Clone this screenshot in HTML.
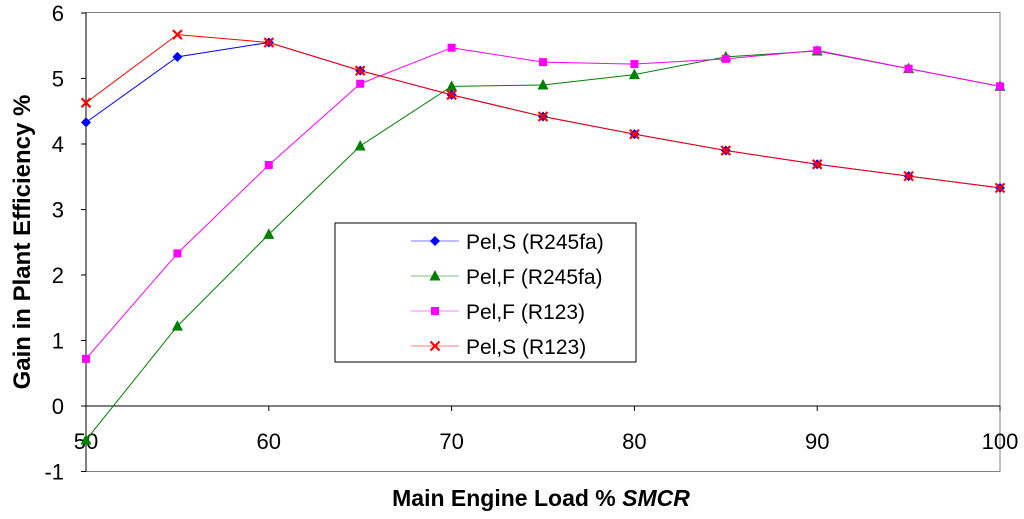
<!DOCTYPE html>
<html><head><meta charset="utf-8"><style>
body{margin:0;background:#fff;}
svg{display:block;font-family:"Liberation Sans",Arial,sans-serif;}
</style></head><body>
<svg id="chart" width="1024" height="519" viewBox="0 0 1024 519" xmlns="http://www.w3.org/2000/svg">
<rect x="86" y="12.5" width="914" height="459" fill="#fff" stroke="#808080" stroke-width="1"/>
<g id="axes"></g>
<g id="series"></g>
<text transform="translate(30,242) rotate(-90)" text-anchor="middle" font-size="24" font-weight="bold">Gain in Plant Efficiency %</text>
<text x="541" y="506" text-anchor="middle" font-size="23" font-weight="bold">Main Engine Load % <tspan font-style="italic">SMCR</tspan></text>
<g>
<rect x="335" y="223" width="301" height="139" fill="#fff" stroke="#000" stroke-width="1"/>
<g id="legend-items"></g>
</g>
</svg>
<script>
const categories=[50,55,60,65,70,75,80,85,90,95,100];
const pelS245=[4.33,5.33,5.55,5.12,4.75,4.42,4.15,3.9,3.69,3.51,3.33];
const pelF245=[-0.52,1.22,2.62,3.97,4.88,4.9,5.06,5.33,5.42,5.15,4.88];
const pelF123=[0.72,2.33,3.68,4.92,5.47,5.25,5.22,5.3,5.43,5.15,4.88];
const pelS123=[4.63,5.67,5.55,5.12,4.75,4.42,4.15,3.9,3.69,3.51,3.33];
const yTicks=[-1,0,1,2,3,4,5,6];
const xTicks=[50,60,70,80,90,100];
const seriesNames=["Pel,S (R245fa)","Pel,F (R245fa)","Pel,F (R123)","Pel,S (R123)"];

const NS="http://www.w3.org/2000/svg";
function X(v){return 86+(v-50)/50*914;}
function Y(v){return 406-65.5*v;}
function mk(t,a,p){const e=document.createElementNS(NS,t);for(const k in a)e.setAttribute(k,a[k]);p.appendChild(e);return e;}
const axes=document.getElementById('axes');
const yl=mk('line',{x1:86,y1:12.5,x2:86,y2:471.5,stroke:'#000'},axes);


const xl=mk('line',{x1:86,y1:Y(0),x2:1000,y2:Y(0),stroke:'#000'},axes);


yTicks.forEach(v=>{
 mk('line',{x1:81,y1:Y(v),x2:86,y2:Y(v),stroke:'#000'},axes);
 const t=mk('text',{x:64,y:Y(v)+8,'text-anchor':'end','font-size':22},axes);
 t.textContent=v;
 
 
});
xTicks.forEach(v=>{
 mk('line',{x1:X(v),y1:Y(0),x2:X(v),y2:Y(0)+5,stroke:'#000'},axes);
 const t=mk('text',{x:X(v),y:449,'text-anchor':'middle','font-size':22},axes);
 t.textContent=v;
 
 
});
function marker(type,x,y,color,p){
 if(type==='diamond')return mk('polygon',{points:`${x},${y-5} ${x+5},${y} ${x},${y+5} ${x-5},${y}`,fill:color},p);
 if(type==='tri')return mk('polygon',{points:`${x},${y-6} ${x+5.5},${y+4.5} ${x-5.5},${y+4.5}`,fill:color},p);
 if(type==='square')return mk('rect',{x:x-4,y:y-4,width:8,height:8,fill:color},p);
 const g=mk('g',{stroke:color,'stroke-width':2.2},p);
 mk('line',{x1:x-4.5,y1:y-4.5,x2:x+4.5,y2:y+4.5},g);mk('line',{x1:x-4.5,y1:y+4.5,x2:x+4.5,y2:y-4.5},g);return g;
}
const defs=[[pelF245,'#008000','tri','series-pel-f-r245fa'],[pelF123,'#ff00ff','square','series-pel-f-r123'],[pelS245,'#0000ff','diamond','series-pel-s-r245fa'],[pelS123,'#ff0000','x','series-pel-s-r123']];
const sg=document.getElementById('series');
defs.forEach(([d,c,m,n])=>{
 const g=mk('g',{},sg);
 
 
 mk('polyline',{points:d.map((v,i)=>X(categories[i])+','+Y(v)).join(' '),fill:'none',stroke:c,'stroke-width':1},g);
 d.forEach((v,i)=>{const e=marker(m,X(categories[i]),Y(v),c,g);
  
  });
});
const lg=document.getElementById('legend-items');
const lc=[['#0000ff','diamond'],['#008000','tri'],['#ff00ff','square'],['#ff0000','x']];
seriesNames.forEach((n,i)=>{
 const y=241+i*35;
 const g=mk('g',{},lg);
 
 
 mk('line',{x1:411,y1:y,x2:459,y2:y,stroke:lc[i][0],'stroke-width':1,opacity:0.5},g);
 marker(lc[i][1],435,y,lc[i][0],g);
 const t=mk('text',{x:466,y:y+8,'font-size':21},g);t.textContent=n;
});
</script>
</body></html>
